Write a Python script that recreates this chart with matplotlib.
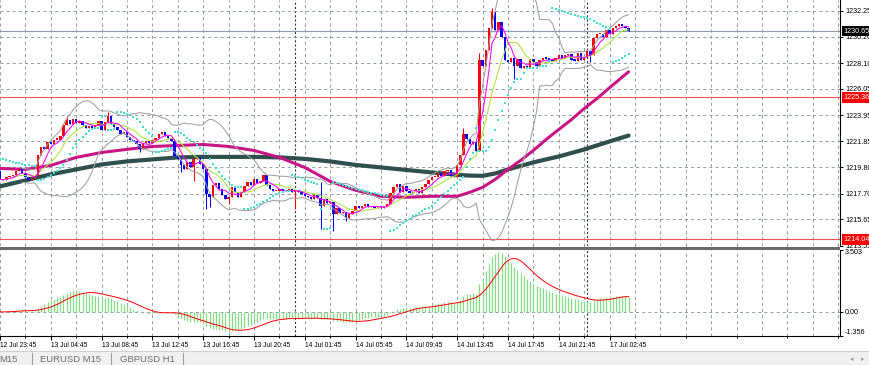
import numpy as np
import pandas as pd
import matplotlib
matplotlib.use('Agg')
import matplotlib.pyplot as plt
from matplotlib.patches import Rectangle
from matplotlib.lines import Line2D
from matplotlib.transforms import blended_transform_factory

###################################
# data (M15 bars)
###################################
closes = [
    1218.83, 1218.75, 1218.99, 1219.07, 1219.15, 1219.46, 1219.62, 1219.30, 1218.99, 1218.75,
    1218.91, 1219.07, 1220.81, 1221.37, 1221.22, 1221.77, 1221.61, 1222.00, 1222.00, 1222.32,
    1223.20, 1223.59, 1223.28, 1223.67, 1223.35, 1223.51, 1223.20, 1222.96, 1223.12, 1222.96,
    1223.20, 1223.51, 1222.80, 1223.43, 1223.91, 1223.28, 1223.04, 1222.80, 1222.48, 1222.64,
    1222.24, 1222.00, 1221.85, 1221.61, 1221.22, 1221.69, 1221.85, 1221.69, 1222.00, 1222.16,
    1222.48, 1222.64, 1222.32, 1222.16, 1221.92, 1220.73, 1220.42, 1219.94, 1219.62, 1220.18,
    1219.78, 1220.42, 1220.58, 1220.02, 1219.62, 1217.64, 1217.40, 1218.35, 1218.51, 1218.03,
    1217.56, 1217.24, 1217.40, 1218.19, 1217.80, 1217.40, 1217.80, 1218.27, 1218.59, 1218.35,
    1218.83, 1218.51, 1218.67, 1219.15, 1218.35, 1218.03, 1217.88, 1217.88, 1218.03, 1217.88,
    1217.96, 1218.03, 1217.80, 1217.96, 1217.80, 1217.64, 1217.48, 1217.40, 1217.24, 1217.56,
    1217.32, 1216.69, 1217.24, 1216.92, 1217.00, 1216.05, 1216.53, 1216.13, 1216.21, 1215.73,
    1216.05, 1216.29, 1216.69, 1216.53, 1216.69, 1216.85, 1216.61, 1216.69, 1216.53, 1216.69,
    1216.53, 1216.69, 1216.85, 1217.72, 1218.19, 1218.43, 1217.80, 1218.27, 1217.88, 1217.72,
    1217.80, 1218.03, 1217.72, 1218.19, 1218.43, 1218.75, 1218.99, 1218.99, 1219.30, 1219.07,
    1219.46, 1219.54, 1219.07, 1218.99, 1219.94, 1220.81, 1222.48, 1222.08, 1221.61, 1221.77,
    1221.06, 1228.36, 1227.88, 1229.15, 1230.90, 1232.17, 1230.74, 1231.37, 1230.18, 1228.36,
    1228.20, 1228.52, 1227.88, 1228.44, 1227.72, 1227.88, 1227.72, 1228.44, 1228.20, 1227.88,
    1228.36, 1228.52, 1228.44, 1228.36, 1228.28, 1228.52, 1228.75, 1228.52, 1228.75, 1228.83,
    1228.36, 1228.28, 1228.91, 1228.36, 1228.60, 1229.07, 1228.75, 1230.10, 1230.42, 1230.42,
    1230.18, 1230.74, 1230.42, 1230.90, 1231.06, 1231.21, 1231.06, 1230.90, 1230.65,
]
first_open = 1219.46
wick_highs = {21: 1223.90, 34: 1224.23, 101: 1218.59, 146: 1222.96, 151: 1228.90, 155: 1232.50}
wick_lows = {44: 1221.00, 57: 1219.40, 61: 1218.67, 65: 1216.45, 66: 1216.60, 72: 1216.85,
             93: 1216.45, 101: 1214.90, 105: 1214.75, 109: 1215.50, 162: 1226.85, 186: 1228.20}
sar_start = 1220.45

# thick moving averages, read every few bars
ma_bars = [0, 8, 16, 24, 32, 40, 48, 56, 64, 72, 80, 88, 96, 104, 112, 120, 128, 136, 144,
           148, 152, 156, 160, 164, 168, 172, 176, 180, 184, 188, 192, 198]
ma_pink = [1219.70, 1219.62, 1219.94, 1220.58, 1220.97, 1221.22, 1221.45, 1221.53, 1221.61,
           1221.45, 1221.13, 1220.58, 1219.78, 1218.67, 1217.96, 1217.48, 1217.40, 1217.48,
           1217.48, 1217.80, 1218.19, 1218.83, 1219.62, 1220.34, 1221.13, 1222.00, 1222.80,
           1223.59, 1224.47, 1225.26, 1226.13, 1227.40]
ma_dark = [1218.27, 1218.75, 1219.23, 1219.62, 1220.02, 1220.26, 1220.42, 1220.58, 1220.62,
           1220.62, 1220.62, 1220.58, 1220.46, 1220.26, 1219.98, 1219.78, 1219.58, 1219.38,
           1219.19, 1219.13, 1219.11, 1219.30, 1219.62, 1219.90, 1220.18, 1220.42, 1220.65,
           1220.93, 1221.21, 1221.53, 1221.85, 1222.32]

price_ticks = [1232.25, 1230.20, 1228.10, 1226.05, 1223.95, 1221.85, 1219.80, 1217.70, 1215.65, 1213.55]
red_levels = [1225.36, 1214.04]
macd_ticks = [3.503, 0.0, -1.356]
macd_tick_labels = ['3.503', '0.00', '-1.356']
time_labels = ['12 Jul 23:45', '13 Jul 04:45', '13 Jul 08:45', '13 Jul 12:45', '13 Jul 16:45',
               '13 Jul 20:45', '14 Jul 01:45', '14 Jul 05:45', '14 Jul 09:45', '14 Jul 13:45',
               '14 Jul 17:45', '14 Jul 21:45', '17 Jul 02:45']
day_breaks = [93, 185]
tabs = ['M15', 'EURUSD M15', 'GBPUSD H1']

###################################
# indicators
###################################
c = np.array(closes)
n = len(c)
x = np.arange(n)
o = np.r_[first_open, c[:-1]]
hi = np.maximum(o, c)
lo = np.minimum(o, c)
for k, v in wick_highs.items():
    hi[k] = v
for k, v in wick_lows.items():
    lo[k] = v

s = pd.Series(c)
fast = s.rolling(5, min_periods=1).mean()
slow = s.rolling(10, min_periods=1).mean()
mid = s.rolling(20, min_periods=8).mean()
dev = s.rolling(20, min_periods=8).std(ddof=0)
bb_up = mid + 2 * dev
bb_lo = mid - 2 * dev

ema12 = s.ewm(span=12, adjust=False).mean()
ema26 = s.ewm(span=26, adjust=False).mean()
macd = ema12 - ema26
signal = macd.rolling(9, min_periods=1).mean()

sar = np.zeros(n)
sar[0] = sar_start
up = False
af = 0.02
ep = lo[0]
for i in range(1, n):
    v = sar[i-1] + af * (ep - sar[i-1])
    if up:
        v = min(v, lo[i-1], lo[max(i-2, 0)])
        if lo[i] < v:
            up, v, ep, af = False, ep, lo[i], 0.02
        elif hi[i] > ep:
            ep, af = hi[i], min(af + 0.02, 0.2)
    else:
        v = max(v, hi[i-1], hi[max(i-2, 0)])
        if hi[i] > v:
            up, v, ep, af = True, ep, hi[i], 0.02
        elif lo[i] < ep:
            ep, af = lo[i], min(af + 0.02, 0.2)
    sar[i] = v

###################################
# figure
###################################
plt.rcParams['font.family'] = ['Liberation Sans', 'DejaVu Sans']
plt.rcParams['lines.scale_dashes'] = False

W, H = 870, 365
fig = plt.figure(figsize=(W/100, H/100), dpi=100)
fig.patch.set_facecolor('white')
ax1 = fig.add_axes([0, (H-246)/H, 840/W, 246/H])
ax2 = fig.add_axes([0, (H-336)/H, 840/W, (336-249.5)/H], sharex=ax1)

grid_kw = dict(color='#939ca6', lw=0.7, dashes=(2.2, 2.2), zorder=1)
sep_kw = dict(color='#303030', lw=0.8, dashes=(1.5, 1.5), zorder=1)
for ax in (ax1, ax2):
    for b in range(0, 270, 8):
        ax.axvline(b, **grid_kw)
    for b in day_breaks:
        ax.axvline(b, **sep_kw)
for p in price_ticks:
    ax1.axhline(p, **grid_kw)
ax2.axhline(0, **grid_kw)

# main panel
ax1.plot(ma_bars, ma_dark, color='#2f4f4f', lw=3.0, solid_capstyle='round', zorder=3)
ax1.plot(ma_bars, ma_pink, color='#c71585', lw=2.2, solid_capstyle='round', zorder=3)

cols = np.where(c >= o, '#ff0000', '#0000ff')
ax1.vlines(x, lo, hi, colors=cols, lw=0.75, zorder=4)
ax1.bar(x, np.maximum(np.abs(c - o), 0.1), bottom=np.minimum(o, c), width=0.75,
        color=cols, lw=0, zorder=4)

ax1.plot(x, bb_up, color='#a0a0a0', lw=0.75, zorder=5)
ax1.plot(x, bb_lo, color='#a0a0a0', lw=0.75, zorder=5)
ax1.plot(x, slow, color='#a8e63a', lw=0.75, zorder=5)
ax1.plot(x, fast, color='#ff00ff', lw=0.75, zorder=5)
ax1.plot(x, sar, ls='none', marker='s', ms=2.1, mew=0, color='#40e0d0', zorder=5)

for p in red_levels:
    ax1.axhline(p, color='#f05050', lw=0.8, zorder=2)
ax1.axhline(c[-1], color='#8c9aab', lw=0.8, zorder=2)

ax1.set_xlim(0, 264.6)
ax1.set_ylim(1213.52, 1233.12)
ax1.yaxis.tick_right()
ax1.set_yticks(price_ticks)
ax1.set_yticklabels(['%.2f' % p for p in price_ticks])
ax1.tick_params(axis='y', length=2.5, width=0.7, pad=1.2, labelsize=5.2, colors='black')
ax1.tick_params(axis='x', bottom=False, labelbottom=False)
for sp in ('top', 'left', 'bottom'):
    ax1.spines[sp].set_visible(False)
ax1.spines['right'].set_linewidth(0.8)

tr = blended_transform_factory(ax1.transAxes, ax1.transData)
for val, bg in [(c[-1], 'black'), (red_levels[0], '#ff0000'), (red_levels[1], '#ff0000')]:
    ax1.text(1.0043, val, '%.2f' % val, transform=tr, va='center', ha='left', fontsize=5.2,
             color='white', clip_on=False, zorder=10,
             bbox=dict(boxstyle='square,pad=0.25', fc=bg, ec='none'))

# macd panel
ax2.vlines(x, 0, macd, colors='#86dc86', lw=0.9, zorder=3)
ax2.plot(x, signal, color='#ff0000', lw=0.7, zorder=4)
ax2.set_ylim(-1.356, 3.503)
ax2.yaxis.tick_right()
ax2.set_yticks(macd_ticks)
ax2.set_yticklabels(macd_tick_labels)
lbls = ax2.get_yticklabels()
lbls[0].set_va('top')
lbls[2].set_va('bottom')
ax2.tick_params(axis='y', length=2.5, width=0.7, pad=1.2, labelsize=5.2, colors='black')
ax2.set_xticks(np.arange(len(time_labels)) * 16)
ax2.set_xticklabels(time_labels, ha='left')
ax2.set_xticks(np.arange(8, 270, 16), minor=True)
ax2.tick_params(axis='x', which='major', length=3, width=0.7, pad=1.5, labelsize=4.8)
ax2.tick_params(axis='x', which='minor', length=1.5, width=0.7)
for sp in ('top', 'left'):
    ax2.spines[sp].set_visible(False)
ax2.spines['right'].set_linewidth(0.8)
ax2.spines['bottom'].set_linewidth(0.8)

# panel separator
fig.patches.append(Rectangle((0, (H-249.5)/H), 840/W, 3/H, transform=fig.transFigure,
                             fc='#6a6a6a', ec='none'))

# tab strip at the bottom
fig.patches.append(Rectangle((0, 0), 1, 14/H, transform=fig.transFigure, fc='#f0f0f0', ec='none'))
fig.lines.append(Line2D([0, 1], [14/H, 14/H], transform=fig.transFigure, color='#d0d0d0', lw=0.8))
for t, px in zip(tabs, [-1, 40, 120]):
    fig.text(px/W, 5.5/H, t, fontsize=6.8, color='#6e6e6e', va='center', ha='left')
for px in [32, 111, 183]:
    fig.lines.append(Line2D([px/W, px/W], [0, 12/H], transform=fig.transFigure,
                            color='#a0a0a0', lw=0.8))
fig.text(852/W, 5.5/H, '\u25c2', fontsize=5, color='#a0a0a0', va='center', ha='center',
         family='DejaVu Sans')
fig.text(863/W, 5.5/H, '\u25b8', fontsize=5, color='#a0a0a0', va='center', ha='center',
         family='DejaVu Sans')

plt.savefig('out.png', dpi=100)
